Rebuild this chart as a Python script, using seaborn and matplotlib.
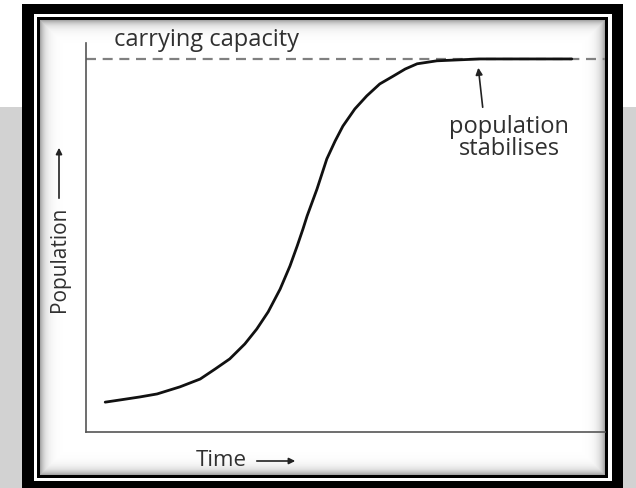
import numpy as np
import pandas as pd
import matplotlib
matplotlib.use('Agg')
import matplotlib.pyplot as plt
from matplotlib.patches import Rectangle
import seaborn as sns

# data (time in arbitrary units, population with K = 1000)
time = [3.7, 6.6, 10.4, 13.7, 18.1, 22.0, 24.9, 27.7, 30.6, 32.9, 35.1,
        37.4, 39.3, 40.7, 41.8, 42.6, 44.5, 46.4, 48.0, 49.5, 51.8, 54.1,
        56.6, 59.2, 61.5, 63.8, 67.6, 75.9, 93.6]
population = [80, 86, 94, 102, 121, 142, 169, 196, 236, 276, 322,
              383, 445, 499, 544, 579, 651, 732, 780, 820, 866, 901,
              933, 954, 973, 987, 995, 1000, 1000]
carrying_capacity = 1000

df = pd.DataFrame({'Time': time, 'Population': population})

sns.set_theme(style='white')
plt.rcParams['font.family'] = ['Open Sans', 'DejaVu Sans']

W, H = 636, 489
fig = plt.figure(figsize=(W / 100, H / 100), dpi=100)

# background / frame drawn in pixel coordinates
bg = fig.add_axes([0, 0, 1, 1])
bg.set_xlim(0, W)
bg.set_ylim(H, 0)
bg.axis('off')
bg.add_patch(Rectangle((0, 108), W, H - 108, color='#d2d2d2', lw=0))
bg.add_patch(Rectangle((22, 5), 601, 490, color='black', lw=0))
bg.add_patch(Rectangle((34, 15), 578, 467, color='white', lw=0))
bg.add_patch(Rectangle((37, 18), 571, 461, color='black', lw=0))

# soft shadow inside the inner frame
iw, ih = 565, 455
xx = np.arange(iw)
yy = np.arange(ih)
dx = np.minimum(xx[None, :], iw - 1 - xx[None, :])
dy = np.minimum(yy[:, None], ih - 1 - yy[:, None])
d = np.minimum(dx, dy).astype(float)
shade = 1 - 0.35 * np.exp(-d / 5.0)
bg.imshow(shade, cmap='gray', vmin=0, vmax=1, extent=(40, 605, 476, 21),
          interpolation='bilinear', aspect='auto', zorder=3)
bg.set_xlim(0, W)
bg.set_ylim(H, 0)

# main plot area
ax = fig.add_axes([86 / W, (H - 433) / H, (605 - 86) / W, (433 - 44) / H])
ax.patch.set_alpha(0)
sns.lineplot(data=df, x='Time', y='Population', ax=ax, color='#111111', lw=2)
ax.axhline(carrying_capacity, color='#808080', lw=1.6, ls=(0, (4.5, 3)), zorder=1)
ax.set_xlim(0, 100)
ax.set_ylim(0, carrying_capacity / 0.959)
ax.set_xticks([])
ax.set_yticks([])
ax.set_xlabel('')
ax.set_ylabel('')
for s in ['top', 'right']:
    ax.spines[s].set_visible(False)
for s in ['left', 'bottom']:
    ax.spines[s].set_color('#555555')
    ax.spines[s].set_linewidth(1.2)

# labels
txt = '#303030'
bg.text(114, 40, 'carrying capacity', fontsize=17, color=txt, va='center', ha='left', zorder=5)
bg.text(509, 138, 'population\nstabilises', fontsize=17, color=txt, ha='center',
        va='center', linespacing=0.9, zorder=5)
bg.annotate('', xy=(478, 66), xytext=(483, 111),
            arrowprops=dict(arrowstyle='-|>', color='#222222', lw=1.2,
                            mutation_scale=10), zorder=5)

bg.text(196, 461, 'Time', fontsize=16, color=txt, va='center', ha='left', zorder=5)
bg.annotate('', xy=(298, 462), xytext=(254, 462),
            arrowprops=dict(arrowstyle='-|>', color='#222222', lw=1.2,
                            mutation_scale=9), zorder=5)

bg.text(59, 259, 'Population', fontsize=15, color=txt, rotation=90,
        va='center', ha='center', zorder=5)
bg.annotate('', xy=(59, 146), xytext=(59, 202),
            arrowprops=dict(arrowstyle='-|>', color='#222222', lw=1.2,
                            mutation_scale=9), zorder=5)

fig.savefig('out.png', dpi=100)
